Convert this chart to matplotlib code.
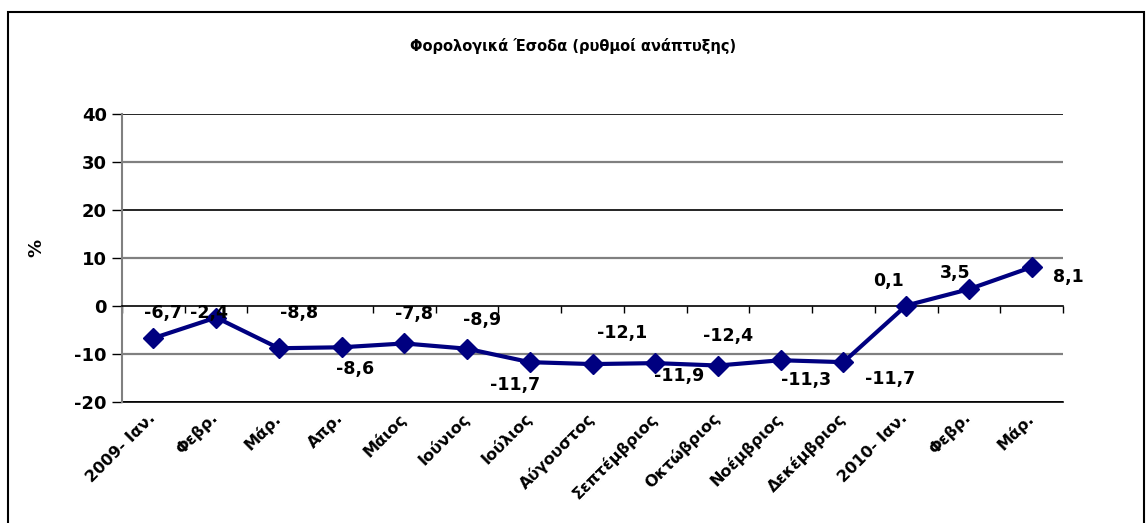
import matplotlib
matplotlib.use("Agg")
import matplotlib.pyplot as plt
import matplotlib.transforms as mtransforms
from matplotlib.patches import Rectangle

plt.rcParams['font.family'] = ['DejaVu Sans']
plt.rcParams['font.weight'] = 'bold'
plt.rcParams['axes.unicode_minus'] = False

# data
months = ['2009- Ιαν.', 'Φεβρ.', 'Μάρ.', 'Απρ.', 'Μάιος', 'Ιούνιος', 'Ιούλιος',
          'Αύγουστος', 'Σεπτέμβριος', 'Οκτώβριος', 'Νοέμβριος', 'Δεκέμβριος',
          '2010- Ιαν.', 'Φεβρ.', 'Μάρ.']
growth = [-6.7, -2.4, -8.8, -8.6, -7.8, -8.9, -11.7, -12.1, -11.9, -12.4,
          -11.3, -11.7, 0.1, 3.5, 8.1]
yticks = [-20, -10, 0, 10, 20, 30, 40]

# label offsets (category units, value units), as placed in the original
label_dx = [0.16, -0.12, 0.33, 0.21, 0.15, 0.24, -0.23, 0.48, 0.38, 0.16, 0.4, 0.75, -0.28, -0.22, 0.59]
label_dy = [5.2, 0.9, 7.3, -4.55, 6.2, 6.0, -4.7, 6.5, -2.6, 6.1, -4.2, -3.6, 5.1, 3.4, -2.1]

W, H = 1146, 523
fig = plt.figure(figsize=(W / 100, H / 100), dpi=100)
ax = fig.add_axes([122 / W, 1 - 402 / H, (1063 - 122) / W, (402 - 114) / H])

# outer frame
fig.patches.append(Rectangle((8 / W, -0.05), (1144 - 8) / W, 1.05 - 12 / H,
                             transform=fig.transFigure, fill=False,
                             edgecolor='black', linewidth=1.5))

x = list(range(len(months)))

# horizontal gridlines, alternating dark / grey as in the source
for t in yticks:
    if t == 0:
        continue
    col = 'black' if (t // 10) % 2 == 0 else '#808080'
    ax.axhline(t, color=col, linewidth=1.2 if col == 'black' else 1.6, zorder=1)

ax.plot(x, growth, color='#000080', linewidth=3, marker='D', markersize=10, zorder=3)

for i, v in enumerate(growth):
    ax.text(i + label_dx[i], v + label_dy[i], f"{v:.1f}".replace('.', ','),
            ha='center', va='center', fontsize=12.5, fontweight='bold', zorder=4)

ax.set_xlim(-0.5, len(months) - 0.5)
ax.set_ylim(-20, 40)
ax.set_yticks(yticks)
ax.tick_params(axis='y', length=7, width=1, labelsize=13, pad=4)

# category axis at zero with boundary ticks
ax.spines['top'].set_visible(False)
ax.spines['right'].set_visible(False)
ax.spines['left'].set_color('#808080')
ax.spines['left'].set_linewidth(1.5)
ax.spines['bottom'].set_position(('data', 0))
ax.spines['bottom'].set_linewidth(1.2)
ax.set_xticks([i - 0.5 for i in range(len(months) + 1)])
ax.set_xticklabels([])
ax.tick_params(axis='x', length=5, width=1, direction='out')

# month labels at the bottom of the plot
sec = ax.secondary_xaxis('bottom')
sec.set_xticks(x)
sec.set_xticklabels(months, rotation=45, ha='right', rotation_mode='anchor',
                    fontsize=11.5, fontweight='bold')
sec.tick_params(length=0, pad=6)
shift = mtransforms.ScaledTranslation(-6 / 100, 0, fig.dpi_scale_trans)
for lbl in sec.get_xticklabels():
    lbl.set_transform(lbl.get_transform() + shift)
sec.spines['bottom'].set_color('black')
sec.spines['bottom'].set_linewidth(1.2)

ax.set_ylabel('%', fontsize=13, fontweight='bold')
ax.yaxis.set_label_coords((45 - 122) / 941, (402 - 248) / 288)

fig.text(573 / W, 1 - 46 / H, 'Φορολογικά Έσοδα (ρυθμοί ανάπτυξης)',
         ha='center', va='center', fontsize=10.5, fontweight='bold')

fig.savefig('out.png', dpi=100)
